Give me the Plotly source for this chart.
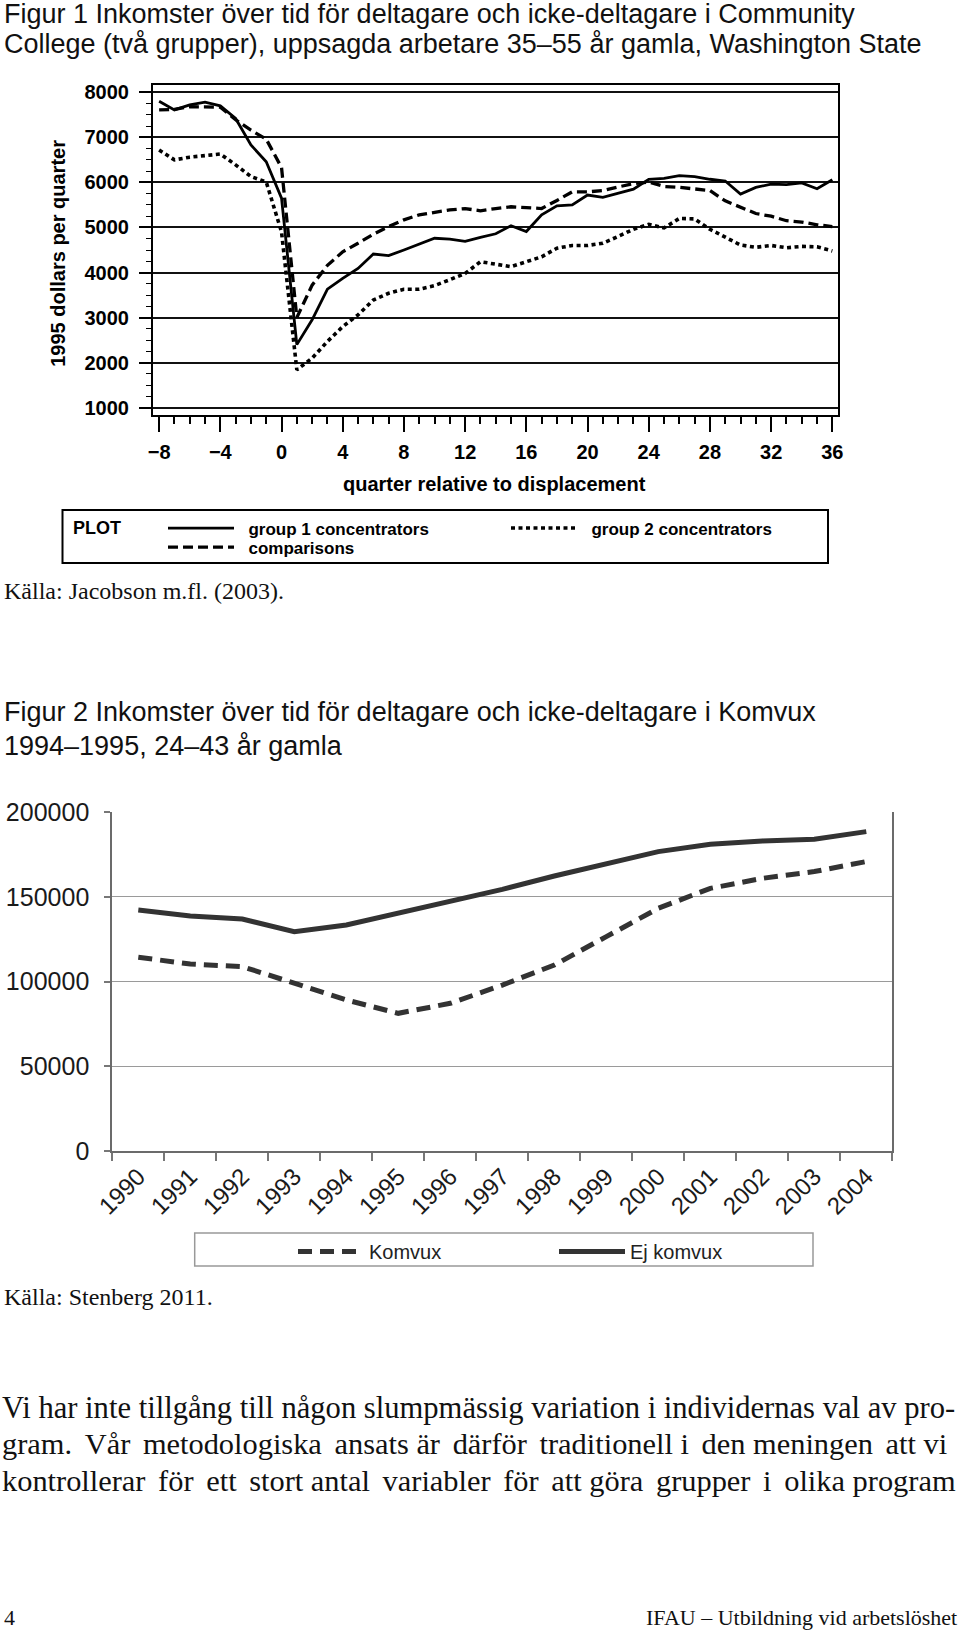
import plotly.graph_objects as go

W, H = 960, 1633


def px(x):
    return x / W


def py(y):
    return 1 - y / H


# ---------------- Figure 1 data (Washington State) ----------------
quarters = list(range(-8, 37))
group1 = [7800, 7610, 7720, 7780, 7700, 7420, 6830, 6460, 5650, 2400,
          2950, 3630, 3870, 4090, 4410, 4375, 4500, 4630, 4760, 4740,
          4690, 4780, 4860, 5040, 4910, 5280, 5480, 5500, 5720, 5670,
          5760, 5850, 6070, 6090, 6150, 6130, 6070, 6030, 5740, 5890,
          5960, 5950, 5990, 5860, 6060]
group2 = [6720, 6500, 6560, 6590, 6630, 6390, 6130, 6010, 4900, 1840,
          2100, 2470, 2800, 3060, 3390, 3540, 3630, 3630, 3710, 3840,
          3980, 4240, 4180, 4130, 4240, 4350, 4540, 4600, 4600, 4650,
          4800, 4960, 5070, 4990, 5200, 5190, 4960, 4780, 4610, 4560,
          4600, 4550, 4580, 4570, 4480]
comparisons = [7610, 7620, 7680, 7680, 7670, 7390, 7160, 6960, 6330, 3000,
               3720, 4160, 4460, 4650, 4850, 5020, 5170, 5280, 5330, 5390,
               5420, 5370, 5420, 5460, 5440, 5420, 5600, 5790, 5790, 5820,
               5900, 5970, 6010, 5910, 5890, 5850, 5820, 5590, 5440, 5310,
               5250, 5150, 5120, 5060, 5020]
quarter_ticks = [-8, -4, 0, 4, 8, 12, 16, 20, 24, 28, 32, 36]
dollar_ticks = [1000, 2000, 3000, 4000, 5000, 6000, 7000, 8000]

# ---------------- Figure 2 data (Komvux) ----------------
years = [str(y) for y in range(1990, 2005)]
komvux = [114400, 110400, 108900, 99000, 89200, 81300, 87200, 98000,
          109800, 126600, 143300, 155100, 161000, 165000, 170900]
ej_komvux = [142300, 138800, 137000, 129500, 133500, 140700, 147200, 154500,
             162400, 169500, 176800, 181100, 183100, 184100, 188600]
income_ticks = [0, 50000, 100000, 150000, 200000]

SANS = "Liberation Sans"
SERIF = "Liberation Serif"
NB = "\u00a0"

fig = go.Figure()

# Figure 1 traces
fig.add_trace(go.Scatter(x=quarters, y=group1, mode="lines",
                         name=NB * 2 + "group 1 concentrators",
                         line=dict(color="black", width=2.8),
                         xaxis="x", yaxis="y", legend="legend"))
fig.add_trace(go.Scatter(x=quarters, y=group2, mode="lines",
                         name=NB * 2 + "group 2 concentrators",
                         line=dict(color="black", width=3.6, dash="4px,3.5px"),
                         xaxis="x", yaxis="y", legend="legend"))
fig.add_trace(go.Scatter(x=quarters, y=comparisons, mode="lines",
                         name=NB * 2 + "comparisons",
                         line=dict(color="black", width=3.3, dash="10px,5px"),
                         xaxis="x", yaxis="y", legend="legend3"))

# Figure 2 traces
fig.add_trace(go.Scatter(x=years, y=komvux, mode="lines", name="Komvux",
                         line=dict(color="#333333", width=5, dash="14px,8px"),
                         xaxis="x2", yaxis="y2", legend="legend2"))
fig.add_trace(go.Scatter(x=years, y=ej_komvux, mode="lines", name="Ej komvux",
                         line=dict(color="#333333", width=5),
                         xaxis="x2", yaxis="y2", legend="legend2"))

bold20 = dict(family=SANS, size=20, color="black", weight="bold")
leg1font = dict(family=SANS, size=17, color="black", weight="bold")

fig.update_layout(
    width=W, height=H,
    margin=dict(l=0, r=0, t=0, b=0, pad=0, autoexpand=False),
    paper_bgcolor="white", plot_bgcolor="white",
    xaxis=dict(domain=[px(152.7), px(838)], anchor="y", automargin=False,
               range=[-8.42, 36.37], tickmode="array", tickvals=quarter_ticks,
               ticks="outside", ticklen=15, tickwidth=2, tickcolor="black",
               minor=dict(tickmode="linear", tick0=0, dtick=1, ticks="outside",
                          ticklen=7, tickwidth=1.5, tickcolor="black",
                          showgrid=False),
               showline=True, linecolor="black", linewidth=1.5, mirror=True,
               showgrid=False, zeroline=False, tickfont=bold20,
               ticklabelstandoff=3),
    yaxis=dict(domain=[py(415), py(84.5)], anchor="x", automargin=False,
               range=[838, 8173], tickmode="array", tickvals=dollar_ticks,
               ticks="outside", ticklen=12, tickwidth=1.5, tickcolor="black",
               minor=dict(tickmode="linear", tick0=0, dtick=250,
                          ticks="outside", ticklen=5, tickwidth=1.2,
                          tickcolor="black", showgrid=False),
               showgrid=True, gridcolor="#111111", gridwidth=1.5,
               showline=True, linecolor="black", linewidth=1.5, mirror=True,
               zeroline=False, tickfont=bold20, ticklabelstandoff=6),
    xaxis2=dict(domain=[px(112.3), px(892.3)], anchor="y2", type="category",
                automargin=False,
                categoryorder="array", categoryarray=years,
                range=[-0.5, 14.5], tickson="boundaries",
                ticks="outside", ticklen=8, tickwidth=1.5, tickcolor="#777777",
                tickangle=-45,
                tickfont=dict(family=SANS, size=24, color="#1a1a1a"),
                showline=True, linecolor="#6b6b6b", linewidth=2, mirror=False,
                showgrid=False, zeroline=False),
    yaxis2=dict(domain=[py(1151), py(812.3)], anchor="x2", automargin=False,
                range=[0, 200000], tickmode="array", tickvals=income_ticks,
                tickformat="d", ticks="outside", ticklen=6, tickwidth=1.5,
                tickcolor="#777777", showgrid=True, gridcolor="#9a9a9a",
                gridwidth=1.3, showline=True, linecolor="#6b6b6b",
                linewidth=2, mirror=True, zeroline=False,
                tickfont=dict(family=SANS, size=25, color="#1a1a1a"),
                ticklabelstandoff=10),
    legend=dict(x=px(163), y=py(510.5), xanchor="left", yanchor="top",
                orientation="h", bgcolor="rgba(0,0,0,0)", borderwidth=0,
                font=leg1font, entrywidth=262, entrywidthmode="pixels",
                itemwidth=66, tracegroupgap=0),
    legend3=dict(x=px(163), y=py(529.5), xanchor="left", yanchor="top",
                 orientation="h", bgcolor="rgba(0,0,0,0)", borderwidth=0,
                 font=leg1font, itemwidth=66),
    legend2=dict(x=px(293), y=py(1232), xanchor="left", yanchor="top",
                 orientation="h", bgcolor="rgba(0,0,0,0)", borderwidth=0,
                 font=dict(family=SANS, size=20, color="#222222"),
                 entrywidth=180, entrywidthmode="pixels", itemwidth=66),
    showlegend=True,
)

# legend frames
fig.add_shape(type="rect", xref="paper", yref="paper",
              x0=px(62.5), x1=px(828), y0=py(563), y1=py(510),
              line=dict(color="black", width=2), fillcolor="rgba(0,0,0,0)")
fig.add_shape(type="rect", xref="paper", yref="paper",
              x0=px(194.7), x1=px(813), y0=py(1266), y1=py(1233),
              line=dict(color="#999999", width=1.5), fillcolor="rgba(0,0,0,0)")


def note(text, x, y, size, family=SANS, xanchor="left", angle=0,
         weight="normal", color="#111111"):
    fig.add_annotation(text=text, x=px(x), y=py(y), xref="paper",
                       yref="paper", xanchor=xanchor, yanchor="middle",
                       showarrow=False, textangle=angle,
                       font=dict(family=family, size=size, color=color,
                                 weight=weight))


# Titles
note("Figur 1 Inkomster över tid för deltagare och icke-deltagare i Community",
     2, 14, 27)
note("College (två grupper), uppsagda arbetare 35–55 år gamla, Washington State",
     2, 44.5, 27)
note("1995 dollars per quarter", 58.3, 253.5, 20, xanchor="center", angle=-90,
     weight="bold", color="black")
note("quarter relative to displacement", 494.6, 484, 20, xanchor="center",
     weight="bold", color="black")
note("PLOT", 71, 528, 18, weight="bold", color="black")
note("Källa: Jacobson m.fl. (2003).", 2, 591, 24, family=SERIF)

note("Figur 2 Inkomster över tid för deltagare och icke-deltagare i Komvux",
     2, 712, 27)
note("1994–1995, 24–43 år gamla", 2, 745.5, 27)
note("Källa: Stenberg 2011.", 2, 1297, 24, family=SERIF)


# Body text (justified by small extra spaces in some gaps)
def justify(text, extra_every):
    words = text.split(" ")
    out = words[0]
    for i, w in enumerate(words[1:], start=1):
        out += (" \u2006" if i in extra_every else " ") + w
    return out


line1 = "Vi har inte tillgång till någon slumpmässig variation i individernas val av pro-"
line2 = justify("gram. Vår metodologiska ansats är därför traditionell i den "
                "meningen att vi", {1, 2, 3, 5, 6, 8, 10})
line3 = justify("kontrollerar för ett stort antal variabler för att göra "
                "grupper i olika program", {1, 2, 3, 5, 6, 7, 9, 10, 11})
note(line1, 0, 1407.5, 30.6, family=SERIF)
note(line2, 0, 1444, 30.4, family=SERIF)
note(line3, 0, 1481, 30.4, family=SERIF)

# Footer
note("4", 2, 1617, 22, family=SERIF)
note("IFAU – Utbildning vid arbetslöshet", 959, 1617, 22, family=SERIF,
     xanchor="right")

fig.write_html("out.html", config={"displayModeBar": False},
               post_script="document.body.style.margin='0px';"
                           "document.body.style.overflow='hidden';")
